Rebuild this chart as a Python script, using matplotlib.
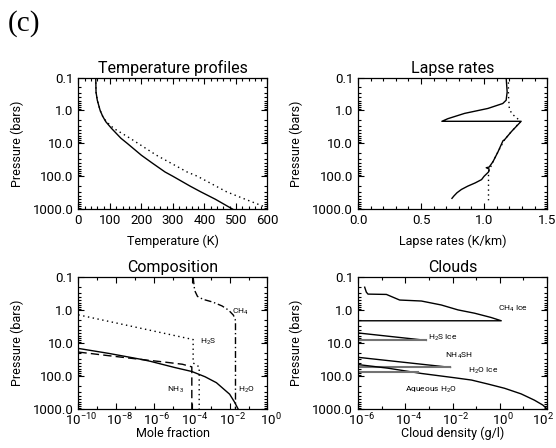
import numpy as np
import matplotlib
matplotlib.use('Agg')
import matplotlib.pyplot as plt
import matplotlib.transforms as mtransforms
from matplotlib.ticker import FixedLocator, FixedFormatter, FuncFormatter, LogLocator, MultipleLocator, NullFormatter

plt.rcParams['font.family'] = ['Roboto', 'DejaVu Sans']
plt.rcParams['mathtext.fontset'] = 'custom'
plt.rcParams['mathtext.rm'] = 'Roboto'
plt.rcParams['mathtext.default'] = 'regular'

# Temperature profiles: pressure (bar) and temperature (K)
temp_p = [0.1, 0.28, 0.49, 1.0, 1.5, 2.2, 3.5, 7, 10, 23, 40, 74, 100, 200, 295, 500, 1000]
temp_solid = [55, 56, 60, 69, 77, 87, 105, 135, 155, 200, 235, 275, 300, 355, 388, 435, 490]
temp_dot_p = [0.1, 0.28, 0.49, 1.0, 1.5, 2.2, 3.5, 7, 23, 74, 100, 295, 500, 850]
temp_dot = [55, 56, 60, 69, 77, 89, 112, 164, 248, 345, 378, 470, 530, 592]

# Lapse rates (K/km) against log10 pressure
lapse_logp = [-1.0, -0.56, -0.31, -0.21, -0.06, 0.09, 0.25, 0.33, 0.33, 0.65, 0.9, 0.92,
              1.26, 1.56, 1.72, 1.74, 1.78, 1.87, 2.0, 2.1, 2.2, 2.3, 2.4, 2.5, 2.6, 2.67]
lapse_solid = [1.175, 1.183, 1.175, 1.148, 1.03, 0.845, 0.713, 0.665, 1.294, 1.215, 1.16, 1.15,
               1.11, 1.07, 1.04, 1.017, 1.04, 1.035, 1.0, 0.98, 0.93, 0.87, 0.82, 0.785, 0.76, 0.745]
lapse_dot_logp = [-1.0, -0.5, -0.06, 0.1, 0.2, 0.33, 0.65, 0.9, 1.26, 1.56, 1.87, 2.73]
lapse_dot = [1.193, 1.193, 1.2, 1.22, 1.25, 1.29, 1.215, 1.16, 1.11, 1.07, 1.035, 1.035]

# Composition: log10 mole fraction against log10 pressure
h2o_logx = [-10, -8.4, -6.6, -6.2, -4.9, -4.0, -3.3, -2.7, -2.0, -1.75, -1.55]
h2o_logp = [1.16, 1.31, 1.50, 1.55, 1.74, 1.86, 2.02, 2.2, 2.55, 2.78, 3.0]
nh3_logx = [-10, -8.4, -6.6, -5.5, -4.5, -4.0, -4.0]
nh3_logp = [1.27, 1.38, 1.50, 1.57, 1.64, 1.72, 3.0]
h2s_logx = [-10, -3.93, -3.93, -3.61, -3.61]
h2s_logp = [0.14, 0.89, 1.60, 1.72, 3.0]
ch4_logx = [-3.93, -3.85, -3.7, -3.4, -2.9, -2.4, -2.05, -1.8, -1.71, -1.69, -1.69]
ch4_logp = [-1.0, -0.6, -0.42, -0.33, -0.25, -0.13, 0.0, 0.15, 0.27, 0.33, 3.0]
comp_labels = ['CH$_4$', 'H$_2$S', 'NH$_3$', 'H$_2$O']
comp_label_logx = [-1.85, -3.57, -5.33, -1.55]
comp_label_logp = [0.05, 0.97, 2.42, 2.42]

# Clouds: log10 density (g/l) against log10 pressure
ch4ice_logx = [-5.72, -5.65, -5.58, -4.80, -4.24, -3.32, -2.48, -1.77, -1.07, -0.37, 0.06, -6.0]
ch4ice_logp = [-0.70, -0.55, -0.49, -0.48, -0.31, -0.28, -0.16, -0.01, 0.09, 0.22, 0.32, 0.32]
h2sice_logx = [-6.0, -3.11]
h2sice_logp = [0.69, 0.915]
nh4sh_logx = [-6.0, -2.09]
nh4sh_logp = [1.43, 1.735]
water_logx = [-6.0, -4.73, -3.32, -1.92, -1.2, -0.51, 0.2, 0.9, 1.46, 1.82, 2.0]
water_logp = [1.65, 1.76, 1.92, 2.05, 2.12, 2.24, 2.37, 2.54, 2.73, 2.88, 3.0]
h2oice_base_logx = [-6.0, -3.45]
h2oice_base_logp = 1.89
cloud_labels = ['CH$_4$ Ice', 'H$_2$S Ice', 'NH$_4$SH', 'H$_2$O Ice', 'Aqueous H$_2$O']
cloud_label_logx = [-0.06, -3.04, -2.34, -1.35, -4.0]
cloud_label_logp = [-0.04, 0.85, 1.38, 1.85, 2.42]

p_ticks = [0.1, 1, 10, 100, 1000]
p_labels = ['0.1', '1.0', '10.0', '100.0', '1000.0']


def p(v):
    return 10 ** np.array(v, dtype=float)


def style(ax, title, xlabel, xlab_y):
    ax.set_yscale('log')
    ax.set_ylim(1000, 0.1)
    ax.yaxis.set_major_locator(FixedLocator(p_ticks))
    ax.yaxis.set_major_formatter(FixedFormatter(p_labels))
    ax.yaxis.set_minor_locator(LogLocator(base=10, subs=np.arange(2, 10)))
    ax.yaxis.set_minor_formatter(NullFormatter())
    ax.tick_params(which='both', direction='in', top=True, right=True, labelsize=9.5, width=0.8)
    ax.tick_params(which='major', length=4)
    ax.tick_params(which='minor', length=2)
    ax.set_title(title, fontsize=11.5, pad=3.5)
    ax.set_ylabel('Pressure (bars)', fontsize=9)
    ax.yaxis.set_label_coords(-0.29, 0.5)
    ax.set_xlabel(xlabel, fontsize=9, va='top')
    ax.xaxis.set_label_coords(0.5, xlab_y)
    for s in ax.spines.values():
        s.set_linewidth(0.9)


def log_x(ax, lo, hi, last_px):
    ax.set_xscale('log')
    ax.set_xlim(10.0 ** lo, 10.0 ** hi)
    ax.xaxis.set_major_locator(FixedLocator(10.0 ** np.arange(lo, hi + 1, 2)))
    ax.xaxis.set_major_formatter(FuncFormatter(lambda v, pos: r'$10^{%d}$' % round(np.log10(v))))
    ax.xaxis.set_minor_locator(FixedLocator(10.0 ** np.arange(lo + 1, hi, 2)))
    ax.xaxis.set_minor_formatter(NullFormatter())
    ax.tick_params(axis='x', which='major', pad=2)
    # IDL puts the exponent labels a little to the right of the tick
    labels = ax.get_xticklabels()
    for i, lab in enumerate(labels):
        dx = last_px if i == len(labels) - 1 else 3
        lab.set_transform(lab.get_transform() + mtransforms.ScaledTranslation(dx / 100, 0, fig.dpi_scale_trans))


fig = plt.figure(figsize=(5.56, 4.48), dpi=100)
ax1 = fig.add_axes([0.141, 0.533, 0.340, 0.294])
ax2 = fig.add_axes([0.644, 0.533, 0.340, 0.294])
ax3 = fig.add_axes([0.141, 0.087, 0.340, 0.294])
ax4 = fig.add_axes([0.644, 0.087, 0.340, 0.294])

dot = (0, (1, 2.5))
lw = 1.0

# Temperature profiles
ax1.plot(temp_solid, temp_p, color='k', lw=lw)
ax1.plot(temp_dot, temp_dot_p, color='k', lw=lw, ls=dot)
ax1.set_xlim(0, 600)
ax1.xaxis.set_major_locator(MultipleLocator(100))
ax1.xaxis.set_minor_locator(MultipleLocator(20))
style(ax1, 'Temperature profiles', 'Temperature (K)', -0.19)

# Lapse rates
ax2.plot(lapse_solid, p(lapse_logp), color='k', lw=lw)
ax2.plot(lapse_dot, p(lapse_dot_logp), color='k', lw=lw, ls=dot)
ax2.set_xlim(0, 1.5)
ax2.xaxis.set_major_locator(MultipleLocator(0.5))
ax2.xaxis.set_minor_locator(MultipleLocator(0.1))
ax2.xaxis.set_major_formatter(FuncFormatter(lambda v, pos: '%.1f' % v))
style(ax2, 'Lapse rates', 'Lapse rates (K/km)', -0.19)

# Composition
ax3.plot(p(h2o_logx), p(h2o_logp), color='k', lw=lw)
ax3.plot(p(nh3_logx), p(nh3_logp), color='k', lw=lw, ls=(0, (6, 3)))
ax3.plot(p(h2s_logx), p(h2s_logp), color='k', lw=lw, ls=dot)
ax3.plot(p(ch4_logx), p(ch4_logp), color='k', lw=lw, ls=(0, (5, 2, 1, 2)))
for t, lx, lp in zip(comp_labels, comp_label_logx, comp_label_logp):
    ax3.text(10 ** lx, 10 ** lp, t, fontsize=6, ha='left', va='center')
style(ax3, 'Composition', 'Mole fraction', -0.135)
log_x(ax3, -10, 0, 3)

# Clouds
ax4.plot(p(ch4ice_logx), p(ch4ice_logp), color='k', lw=lw)
ax4.plot(p(h2sice_logx), p(h2sice_logp), color='k', lw=lw)
ax4.plot(p(h2sice_logx), [10 ** h2sice_logp[-1]] * 2, color='0.45', lw=1.5)
ax4.plot(p(nh4sh_logx), p(nh4sh_logp), color='k', lw=lw)
ax4.plot(p(nh4sh_logx), [10 ** nh4sh_logp[-1]] * 2, color='0.45', lw=1.5)
ax4.plot(p(water_logx), p(water_logp), color='k', lw=lw)
ax4.plot(p(h2oice_base_logx), [10 ** h2oice_base_logp] * 2, color='0.45', lw=1.5)
for t, lx, lp in zip(cloud_labels, cloud_label_logx, cloud_label_logp):
    ax4.text(10 ** lx, 10 ** lp, t, fontsize=6, ha='left', va='center')
style(ax4, 'Clouds', 'Cloud density (g/l)', -0.135)
log_x(ax4, -6, 2, -4)

fig.text(0.014, 0.978, '(c)', fontsize=21, family='Liberation Serif', va='top', ha='left')

fig.savefig('out.png', dpi=100)
